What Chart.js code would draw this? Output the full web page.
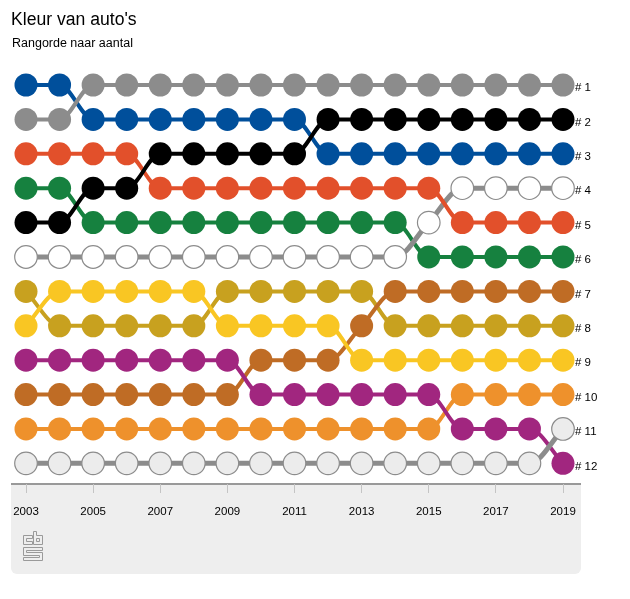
<!DOCTYPE html>
<html>
<head>
<meta charset="utf-8">
<title>Kleur van auto's</title>
<script src="https://cdn.jsdelivr.net/npm/chart.js@4"></script>
<style>
  html, body { margin: 0; padding: 0; background: #fff; }
  body { width: 630px; height: 599px; position: relative; overflow: hidden; font-family: "Liberation Sans", Arial, sans-serif; color: #000; }
  canvas { position: absolute; left: 0; top: 0; }
  h1 { position: absolute; left: 11px; top: 9px; margin: 0; font-size: 17.6px; line-height: 20px; font-weight: normal; }
  h2 { position: absolute; left: 12px; top: 36px; margin: 0; font-size: 12.5px; line-height: 14px; font-weight: normal; }
</style>
</head>
<body>
<canvas id="chart" width="630" height="599"></canvas>
<h1>Kleur van auto's</h1>
<h2>Rangorde naar aantal</h2>
<script>
const years = [2003, 2004, 2005, 2006, 2007, 2008, 2009, 2010, 2011, 2012, 2013, 2014, 2015, 2016, 2017, 2018, 2019];
const rankLabels = ["# 1", "# 2", "# 3", "# 4", "# 5", "# 6", "# 7", "# 8", "# 9", "# 10", "# 11", "# 12"];

const grijs = [2, 2, 1, 1, 1, 1, 1, 1, 1, 1, 1, 1, 1, 1, 1, 1, 1];
const blauw = [1, 1, 2, 2, 2, 2, 2, 2, 2, 3, 3, 3, 3, 3, 3, 3, 3];
const zwart = [5, 5, 4, 4, 3, 3, 3, 3, 3, 2, 2, 2, 2, 2, 2, 2, 2];
const rood = [3, 3, 3, 3, 4, 4, 4, 4, 4, 4, 4, 4, 4, 5, 5, 5, 5];
const groen = [4, 4, 5, 5, 5, 5, 5, 5, 5, 5, 5, 5, 6, 6, 6, 6, 6];
const wit = [6, 6, 6, 6, 6, 6, 6, 6, 6, 6, 6, 6, 5, 4, 4, 4, 4];
const beige = [7, 8, 8, 8, 8, 8, 7, 7, 7, 7, 7, 8, 8, 8, 8, 8, 8];
const geel = [8, 7, 7, 7, 7, 7, 8, 8, 8, 8, 9, 9, 9, 9, 9, 9, 9];
const bruin = [10, 10, 10, 10, 10, 10, 10, 9, 9, 9, 8, 7, 7, 7, 7, 7, 7];
const paars = [9, 9, 9, 9, 9, 9, 9, 10, 10, 10, 10, 10, 10, 11, 11, 11, 12];
const oranje = [11, 11, 11, 11, 11, 11, 11, 11, 11, 11, 11, 11, 11, 10, 10, 10, 10];
const overig = [12, 12, 12, 12, 12, 12, 12, 12, 12, 12, 12, 12, 12, 12, 12, 12, 11];

function makeSeries(label, ranks, fill, line, border) {
  return {
    label,
    data: ranks.map((r, i) => ({ x: years[i], y: r })),
    borderColor: line,
    borderWidth: border ? 5 : 4,
    cubicInterpolationMode: "monotone",
    clip: false,
    pointRadius: border ? 11.3 : 11.5,
    pointBackgroundColor: fill,
    pointBorderColor: border || fill,
    pointBorderWidth: border ? 1.2 : 0
  };
}

// first dataset is drawn on top
const datasets = [
  makeSeries("Overig", overig, "#ececec", "#8c8c8c", "#8c8c8c"),
  makeSeries("Paars", paars, "#a1267f", "#a1267f"),
  makeSeries("Oranje", oranje, "#ee912c", "#ee912c"),
  makeSeries("Geel", geel, "#f9c623", "#f9c623"),
  makeSeries("Bruin", bruin, "#bf6c25", "#bf6c25"),
  makeSeries("Beige", beige, "#c8a11f", "#c8a11f"),
  makeSeries("Zwart", zwart, "#000000", "#000000"),
  makeSeries("Rood", rood, "#e2502b", "#e2502b"),
  makeSeries("Wit", wit, "#ffffff", "#8c8c8c", "#8c8c8c"),
  makeSeries("Groen", groen, "#16813f", "#16813f"),
  makeSeries("Grijs", grijs, "#8c8c8c", "#8c8c8c"),
  makeSeries("Blauw", blauw, "#004f9b", "#004f9b")
];

// grey footer panel, base line and logo sit behind the marks
const panelPlugin = {
  id: "panel",
  beforeDraw(chart) {
    const ctx = chart.ctx;
    const top = chart.chartArea.bottom;
    ctx.save();
    ctx.fillStyle = "#eeeeee";
    ctx.beginPath();
    ctx.roundRect(11, top, 570, 90, [0, 0, 6, 6]);
    ctx.fill();
    ctx.fillStyle = "#999999";
    ctx.fillRect(11, top - 1, 570, 2);
    drawLogo(ctx);
    ctx.restore();
  }
};

function drawShape(ctx, pts) {
  pts.forEach(([x, y], i) => {
    if (i === 0) ctx.moveTo(x + 0.5, y + 0.5);
    else ctx.lineTo(x + 0.5, y + 0.5);
  });
  ctx.closePath();
}

function drawLogo(ctx) {
  ctx.strokeStyle = "#9a9a9a";
  ctx.lineWidth = 1;
  ctx.beginPath();
  // c
  drawShape(ctx, [[32, 535], [23, 535], [23, 544], [32, 544], [32, 541], [26, 541], [26, 538], [32, 538]]);
  // b
  drawShape(ctx, [[33, 531], [36, 531], [36, 535], [42, 535], [42, 544], [33, 544]]);
  drawShape(ctx, [[36, 538], [39, 538], [39, 541], [36, 541]]);
  // s
  drawShape(ctx, [[42, 547], [23, 547], [23, 555], [39, 555], [39, 557], [23, 557], [23, 560], [42, 560], [42, 552], [26, 552], [26, 550], [42, 550]]);
  ctx.stroke();
}

new Chart(document.getElementById("chart"), {
  type: "line",
  data: { datasets },
  plugins: [panelPlugin],
  options: {
    responsive: false,
    animation: false,
    layout: { padding: { left: 26, top: 85, right: 0, bottom: 0 } },
    plugins: { legend: { display: false }, title: { display: false }, tooltip: { enabled: false } },
    scales: {
      x: {
        type: "linear",
        min: 2003,
        max: 2019,
        afterFit(scale) { scale.height = 115; },
        border: { display: false },
        grid: { drawOnChartArea: false, drawTicks: true, tickLength: 9, color: "#c4c4c4", lineWidth: 1 },
        ticks: {
          stepSize: 2,
          autoSkip: false,
          maxRotation: 0,
          padding: 12,
          color: "#000",
          font: { family: "'Liberation Sans', Arial, sans-serif", size: 11.5 },
          callback: (v) => String(v)
        }
      },
      y: {
        type: "linear",
        position: "right",
        reverse: true,
        min: 1,
        max: 12.6,
        afterFit(scale) { scale.width = 67; },
        afterBuildTicks(scale) { scale.ticks = rankLabels.map((_, i) => ({ value: i + 1 })); },
        border: { display: false },
        grid: { display: false },
        ticks: {
          padding: 4,
          labelOffset: 3,
          autoSkip: false,
          color: "#000",
          font: { family: "'Liberation Sans', Arial, sans-serif", size: 11.5 },
          callback: (v) => rankLabels[v - 1]
        }
      }
    }
  }
});
</script>
</body>
</html>
